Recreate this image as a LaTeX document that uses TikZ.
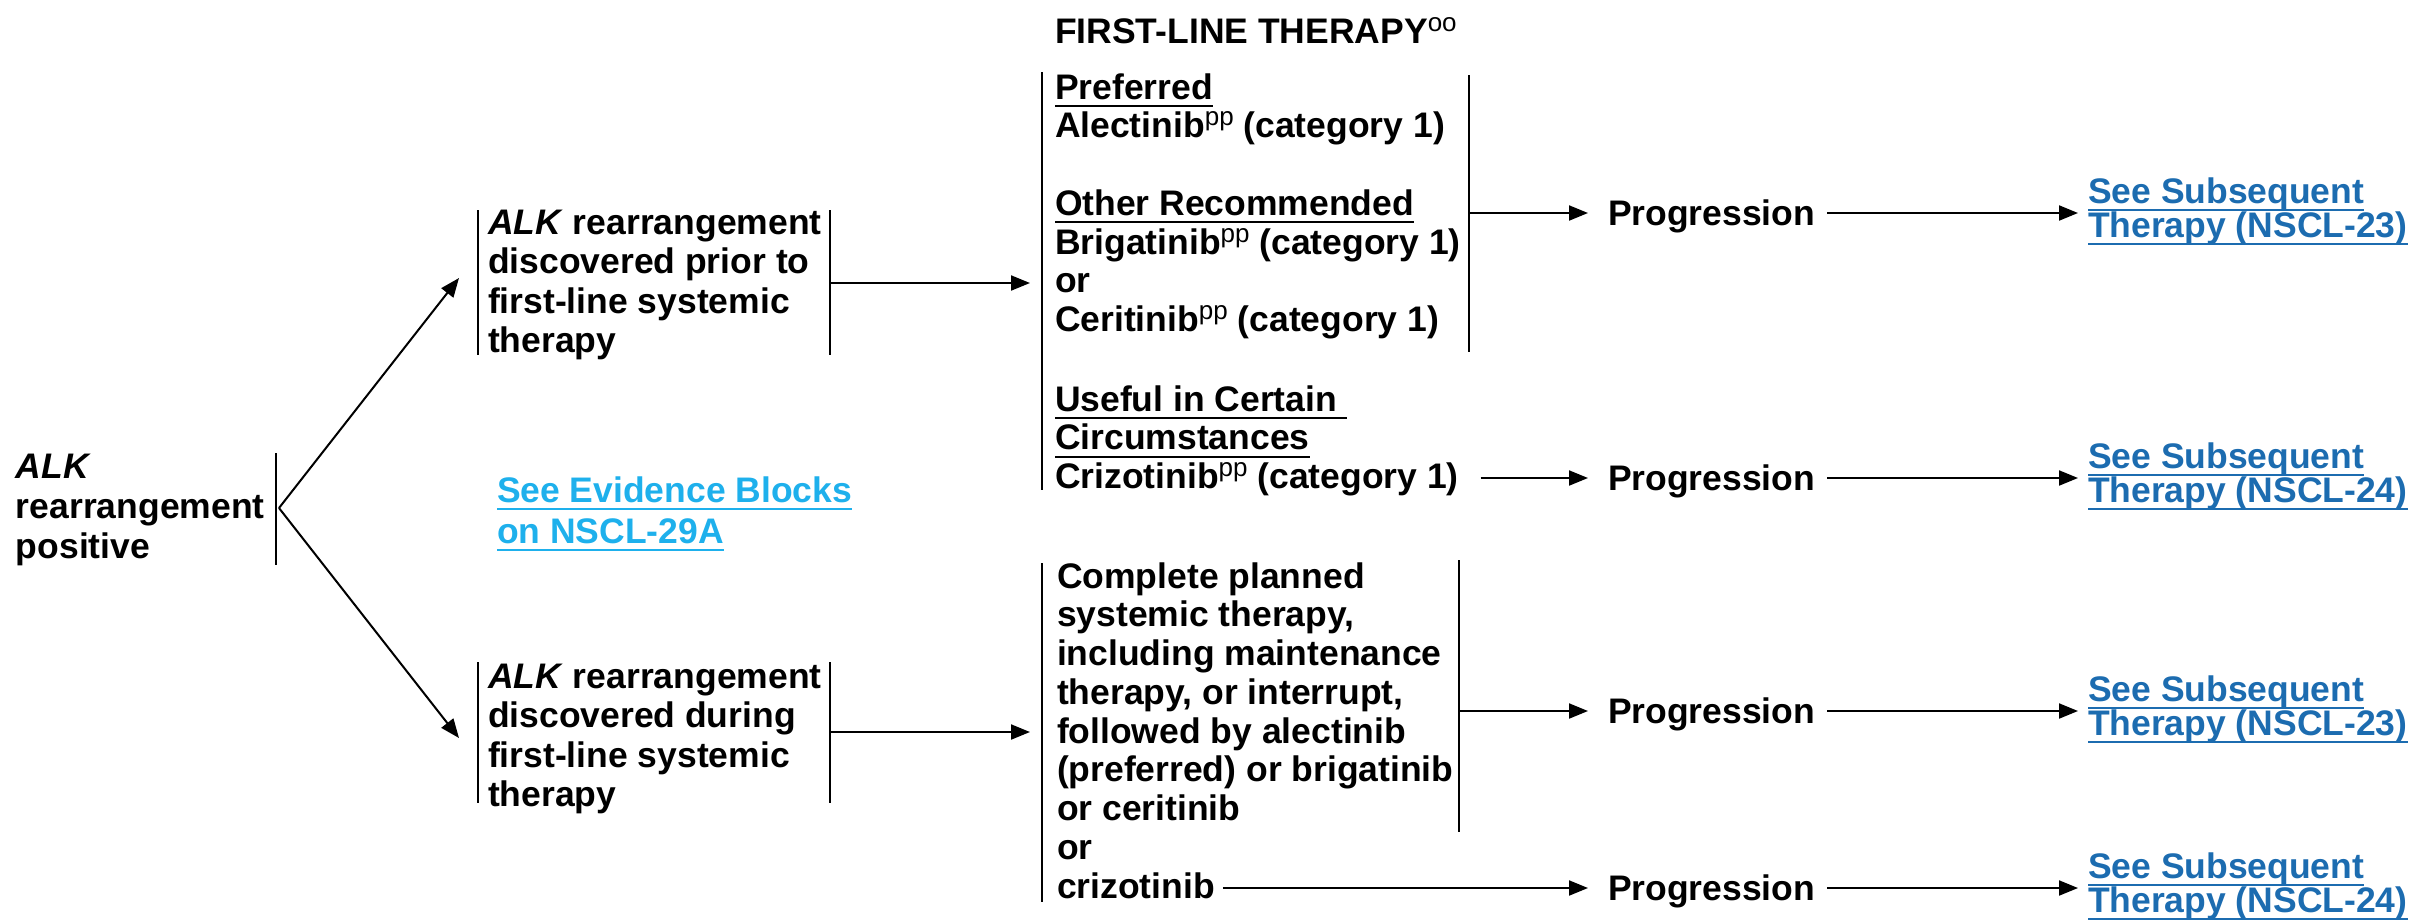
\documentclass[tikz,border=0pt]{standalone}
\usepackage{fontspec}
\setmainfont{Liberation Sans}
\usetikzlibrary{arrows.meta}
\definecolor{linkblue}{RGB}{28,108,176}
\definecolor{evblue}{RGB}{30,176,236}
\newcommand\fnt[1]{\fontsize{35.5}{#1}\selectfont\bfseries}
\newcommand\ts{\rule{0pt}{30pt}}
\newcommand\myul[1]{\setbox0=\hbox{#1}\rlap{\rule[-8.2pt]{\wd0}{2.4pt}}\box0}
\newcommand\sups[1]{\raisebox{12pt}{\fontsize{26}{26}\selectfont\mdseries #1}}
\tikzset{
  txt/.style={inner sep=0pt, outer sep=0pt, anchor=north west, align=left, font=\fnt{38.75}},
  one/.style={inner sep=0pt, outer sep=0pt, anchor=base west, font=\fnt{38.75}},
  lnk/.style={txt, font=\fnt{34}, text=linkblue},
  arr/.style={line width=2pt, -{Triangle[length=19pt,width=15pt]}},
  bar/.style={line width=2pt}
}
\begin{document}
\begin{tikzpicture}[x=1pt,y=-1pt]
\useasboundingbox (0,0) rectangle (2412,922);
% left column
\node[txt,font=\fnt{40}] (n0) at (16,448) {\ts\textit{ALK}\\rearrangement\\positive};
\node[txt,font=\fnt{39.5}] (n1) at (488,204) {\ts\textit{ALK} rearrangement\\discovered prior to\\first-line systemic\\therapy};
\node[txt,font=\fnt{39.5}] (n2) at (488,658) {\ts\textit{ALK} rearrangement\\discovered during\\first-line systemic\\therapy};
\node[txt,font=\fnt{41},text=evblue] (ev) at (497,472) {\ts\myul{See Evidence Blocks}\\\myul{on NSCL-29A}};
% middle column
\node[txt] (title) at (1055,13) {\ts FIRST-LINE THERAPY\sups{oo}};
\node[txt] (m1) at (1055,69) {\ts\myul{Preferred}\\Alectinib\sups{pp} (category 1)\\ \\\myul{Other Recommended}\\Brigatinib\sups{pp} (category 1)\\or\\Ceritinib\sups{pp} (category 1)};
\node[txt] (m1b) at (1055,381) {\ts\myul{Useful in Certain\ }\\\myul{Circumstances}};
\node[one] (m1c) at (1055,488) {Crizotinib\sups{pp} (category 1)};
\node[txt] (m2) at (1057,558) {\ts Complete planned\\systemic therapy,\\including maintenance\\therapy, or interrupt,\\followed by alectinib\\(preferred) or brigatinib\\or ceritinib\\or};
\node[one] (m2c) at (1057,898) {crizotinib};
% progression
\node[one] (p1) at (1608,225) {Progression};
\node[one] (p2) at (1608,490) {Progression};
\node[one] (p3) at (1608,723) {Progression};
\node[one] (p4) at (1608,900) {Progression};
% links
\node[lnk] (l1) at (2088,173) {\ts\myul{See Subsequent}\\\myul{Therapy (NSCL-23)}};
\node[lnk] (l2) at (2088,438) {\ts\myul{See Subsequent}\\\myul{Therapy (NSCL-24)}};
\node[lnk] (l3) at (2088,671) {\ts\myul{See Subsequent}\\\myul{Therapy (NSCL-23)}};
\node[lnk] (l4) at (2088,848) {\ts\myul{See Subsequent}\\\myul{Therapy (NSCL-24)}};
% bars
\draw[bar] (276,453) -- (276,565);
\draw[bar] (478,210) -- (478,355);
\draw[bar] (830,210) -- (830,355);
\draw[bar] (478,662) -- (478,803);
\draw[bar] (830,662) -- (830,803);
\draw[bar] (1042,72) -- (1042,490);
\draw[bar] (1469,75) -- (1469,352);
\draw[bar] (1042,563) -- (1042,902);
\draw[bar] (1459,560) -- (1459,832);
% coordinates
\coordinate (j0) at (279,508);
\coordinate (t1) at (459,278);
\coordinate (t2) at (459,738);
\coordinate (n1R) at (830,283);
\coordinate (m1in) at (1030,283);
\coordinate (n2R) at (830,732);
\coordinate (m2in) at (1030,732);
\coordinate (m1R) at (1469,213);
\coordinate (m2R) at (1459,711);
% connectors
\draw[arr] (j0) -- (t1);
\draw[arr] (j0) -- (t2);
\draw[arr] (n1R) -- (m1in);
\draw[arr] (n2R) -- (m2in);
\draw[arr] (m1R) -- ([shift={(-20pt,12pt)}]p1.base west);
\draw[arr] ([shift={(22pt,10pt)}]m1c.base east) -- ([shift={(-20pt,12pt)}]p2.base west);
\draw[arr] (m2R) -- ([shift={(-20pt,12pt)}]p3.base west);
\draw[arr] ([shift={(8pt,10pt)}]m2c.base east) -- ([shift={(-20pt,12pt)}]p4.base west);
\draw[arr] ([shift={(12pt,12pt)}]p1.base east) -- ([shift={(-10pt,-40pt)}]l1.north west);
\draw[arr] ([shift={(12pt,12pt)}]p2.base east) -- ([shift={(-10pt,-40pt)}]l2.north west);
\draw[arr] ([shift={(12pt,12pt)}]p3.base east) -- ([shift={(-10pt,-40pt)}]l3.north west);
\draw[arr] ([shift={(12pt,12pt)}]p4.base east) -- ([shift={(-10pt,-40pt)}]l4.north west);
\end{tikzpicture}
\end{document}
